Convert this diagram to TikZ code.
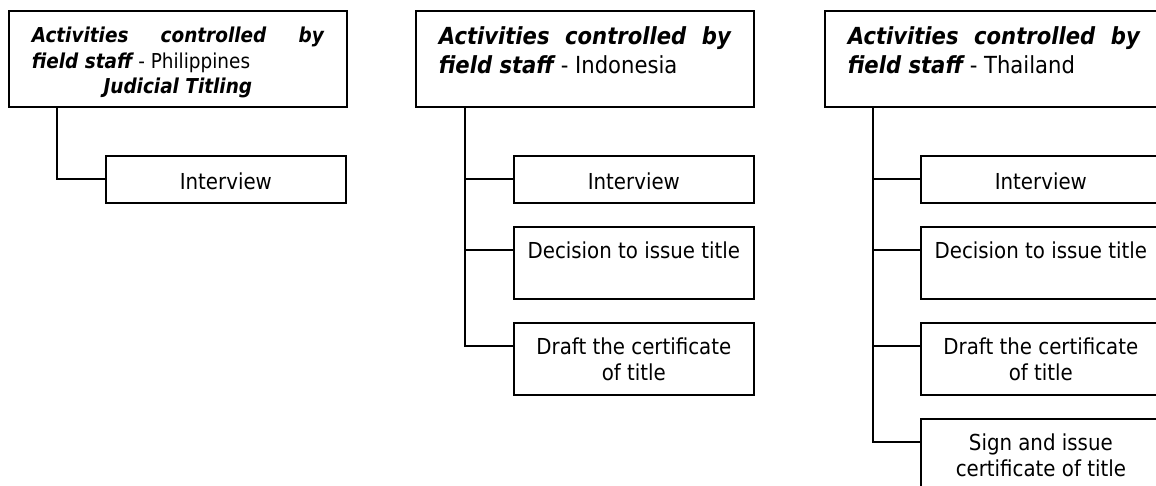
\documentclass[tikz,border=0pt]{standalone}
\usepackage{fontspec}
\setmainfont{DejaVu Sans Condensed}
% box body: height, width, first-baseline strut, text
\newcommand\cellbox[4]{\parbox[c][#1][t]{#2}{\centering\rule{0pt}{#3}#4\par}}
\newcommand\bi[1]{{\bfseries\itshape #1}}
\begin{document}
\begin{tikzpicture}[x=1pt,y=-1pt,
  frame/.style={draw=black, line width=1.7pt, inner sep=0pt, anchor=north west, fill=white},
  head/.style={frame, minimum width=338pt, minimum height=96pt},
  stepbox/.style={frame, minimum width=240pt, minimum height=72pt, font=\fontsize{22}{26}\selectfont},
  shortbox/.style={frame, minimum width=240pt, minimum height=47pt, font=\fontsize{22}{26}\selectfont},
  link/.style={draw=black, line width=1.7pt}]
\useasboundingbox (0,0) rectangle (1156,486);
\clip (0,0) rectangle (1156,486);

% Philippines
\node[head] (ph) at (8,10) {\parbox[c][96pt][t]{292pt}{\fontsize{20.5}{25.5}\selectfont
  \rule{0pt}{32pt}\bi{Activities\hfill controlled\hfill by}\\
  \bi{field staff} - Philippines\par
  {\centering\bi{Judicial Titling}\par}}};
\node[shortbox] (phA) at (105,155) {\cellbox{47pt}{240pt}{34pt}{Interview}};
\draw[link] ([xshift=49pt]ph.south west) |- ([yshift=-24pt]phA.north west);

% Indonesia
\node[head] (id) at (415,10) {\parbox[c][96pt][t]{292pt}{\fontsize{23.5}{28.5}\selectfont
  \rule{0pt}{34pt}\bi{Activities\hfill controlled\hfill by}\\
  \bi{field staff} - Indonesia\par}};
\node[shortbox] (idA) at (513,155) {\cellbox{47pt}{240pt}{34pt}{Interview}};
\node[stepbox] (idB) at (513,226) {\cellbox{72pt}{240pt}{32pt}{Decision to issue title}};
\node[stepbox] (idC) at (513,322) {\cellbox{72pt}{240pt}{32pt}{Draft the certificate\\of title}};
\draw[link] ([xshift=50pt]id.south west) |- ([yshift=-24pt]idA.north west);
\draw[link] ([xshift=50pt]id.south west) |- ([yshift=-24pt]idB.north west);
\draw[link] ([xshift=50pt]id.south west) |- ([yshift=-24pt]idC.north west);

% Thailand
\node[head] (th) at (824,10) {\parbox[c][96pt][t]{292pt}{\fontsize{23.5}{28.5}\selectfont
  \rule{0pt}{34pt}\bi{Activities\hfill controlled\hfill by}\\
  \bi{field staff} - Thailand\par}};
\node[shortbox] (thA) at (920,155) {\cellbox{47pt}{240pt}{34pt}{Interview}};
\node[stepbox] (thB) at (920,226) {\cellbox{72pt}{240pt}{32pt}{Decision to issue title}};
\node[stepbox] (thC) at (920,322) {\cellbox{72pt}{240pt}{32pt}{Draft the certificate\\of title}};
\node[stepbox] (thD) at (920,418) {\cellbox{72pt}{240pt}{32pt}{Sign and issue\\certificate of title}};
\draw[link] ([xshift=49pt]th.south west) |- ([yshift=-24pt]thA.north west);
\draw[link] ([xshift=49pt]th.south west) |- ([yshift=-24pt]thB.north west);
\draw[link] ([xshift=49pt]th.south west) |- ([yshift=-24pt]thC.north west);
\draw[link] ([xshift=49pt]th.south west) |- ([yshift=-24pt]thD.north west);
\end{tikzpicture}
\end{document}
